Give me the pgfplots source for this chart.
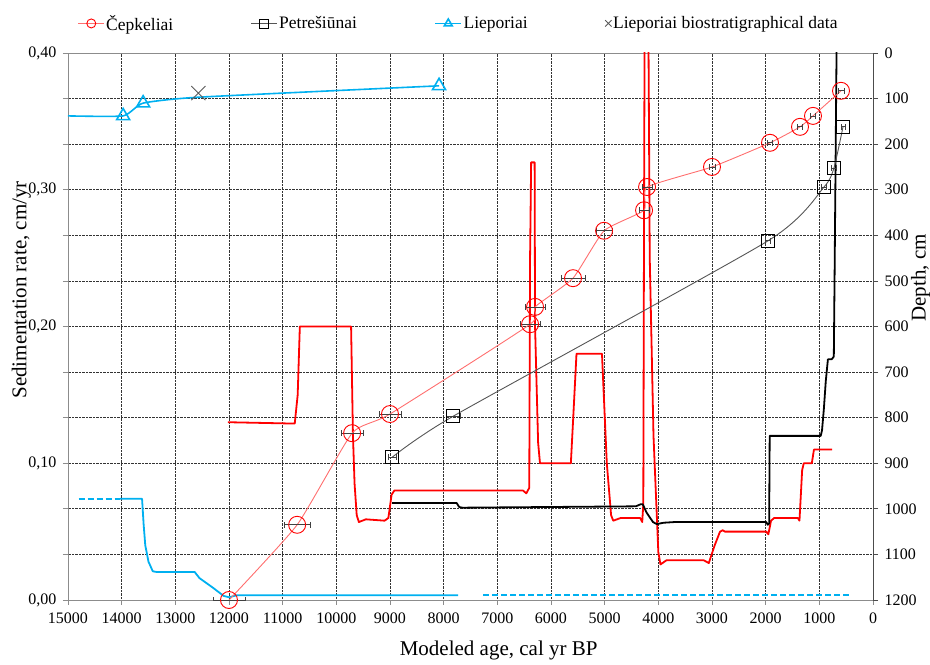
\documentclass[border=0pt]{standalone}
\usepackage{fontspec}
\setmainfont{Liberation Serif}
\usepackage{pgfplots}
\pgfplotsset{compat=1.18}

\definecolor{cepred}{RGB}{255,0,0}
\definecolor{cepline}{RGB}{255,110,110}
\definecolor{liepblue}{RGB}{0,176,240}
\definecolor{petgray}{RGB}{85,85,85}
\definecolor{axgray}{RGB}{140,140,140}

\pgfplotsset{
  frame/.style={
    width=805pt, height=547pt, scale only axis,
    xmin=0, xmax=15000, x dir=reverse,
    scaled x ticks=false, scaled y ticks=false,
    tick align=outside, major tick length=5pt,
    tick label style={font=\fontsize{16}{19}\selectfont},
    label style={font=\fontsize{21}{25}\selectfont},
    /pgf/number format/assume math mode=true,
    /pgf/number format/1000 sep={},
  },
  midmark legend/.style={legend image code/.code={\draw[##1, mark indices={2}]
    plot coordinates {(0pt,0pt)(13pt,0pt)(26pt,0pt)};}},
}

\begin{document}
\begin{tikzpicture}
% left axis: sedimentation rate
\begin{axis}[frame, name=rate,
  ymin=0, ymax=0.4,
  xtick={0,1000,...,15000}, xtick pos=left,
  ytick={0,0.1,0.2,0.3,0.4}, ytick pos=left,
  extra y ticks={0.033333,0.066667,0.133333,0.166667,0.233333,0.266667,0.333333,0.366667},
  extra y tick labels={,,,,,,,},
  extra y tick style={grid=major},
  xmajorgrids, ymajorgrids,
  grid style={densely dotted, black!80, line width=0.7pt},
  axis line style={axgray, line width=0.8pt},
  tick style={axgray, line width=0.8pt},
  xticklabel style={yshift=-4pt},
  yticklabel style={xshift=-3pt, /pgf/number format/fixed, /pgf/number format/fixed zerofill,
    /pgf/number format/precision=2, /pgf/number format/use comma},
  xlabel={Modeled age, cal yr BP},
  ylabel={Sedimentation rate, cm/yr},
  xlabel style={at={(axis description cs:0.535,-0.069)}, anchor=north},
  ylabel style={at={(axis description cs:-0.058,0.567)}, anchor=center},
  line join=round,
]
% Čepkeliai rate
\addplot[cepred, line width=1.8pt] coordinates {
(12020,0.130)(10775,0.129)(10720,0.150)(10680,0.200)(9725,0.200)(9690,0.120)
(9660,0.085)(9620,0.062)(9580,0.057)(9450,0.059)(9100,0.058)(9030,0.060)
(8970,0.077)(8920,0.080)(6520,0.080)(6460,0.078)(6405,0.082)(6390,0.250)
(6370,0.320)(6305,0.320)(6297,0.200)(6240,0.115)(6205,0.100)(5630,0.100)
(5590,0.130)(5525,0.180)(5050,0.180)(4960,0.100)(4880,0.062)(4840,0.058)
(4700,0.060)(4340,0.060)(4300,0.057)(4280,0.070)(4265,0.300)(4255,0.420)
(4185,0.420)(4160,0.250)(4090,0.120)(4000,0.035)(3960,0.026)(3850,0.029)
(3150,0.029)(3060,0.027)(2950,0.040)(2850,0.050)(2800,0.051)(2760,0.050)
(1990,0.050)(1950,0.048)(1900,0.058)(1840,0.060)(1400,0.060)(1370,0.058)
(1320,0.095)(1290,0.100)(1140,0.100)(1100,0.110)(760,0.110)};
% Petrešiūnai rate
\addplot[black, line width=1.8pt] coordinates {
(8960,0.071)(7760,0.071)(7710,0.068)(7650,0.0675)(4420,0.0685)(4330,0.070)
(4290,0.070)(4220,0.064)(4100,0.057)(4030,0.0555)(3900,0.0565)(3700,0.057)
(1990,0.057)(1960,0.055)(1935,0.056)(1925,0.120)(975,0.120)(950,0.124)
(915,0.140)(880,0.160)(840,0.176)(770,0.176)(730,0.178)(715,0.240)
(695,0.330)(675,0.420)};
% Lieporiai rate
\addplot[liepblue, line width=1.8pt, dash pattern=on 6pt off 3pt] coordinates {
(14800,0.074)(14030,0.074)};
\addplot[liepblue, line width=1.8pt] coordinates {
(14030,0.074)(13620,0.074)(13590,0.055)(13560,0.040)(13500,0.028)(13420,0.021)
(13350,0.0205)(12640,0.0205)(12550,0.016)(12300,0.009)(12100,0.003)(12000,0.002)
(11850,0.0035)(7730,0.0035)};
\addplot[liepblue, line width=1.8pt, dash pattern=on 6pt off 3pt] coordinates {
(7260,0.0035)(430,0.0035)};
\end{axis}

% right axis: depth
\begin{axis}[frame,
  ymin=0, ymax=1200, y dir=reverse,
  axis x line=none, axis y line*=right,
  ytick={0,100,...,1200},
  axis line style={black!70, line width=0.8pt},
  tick style={black!70, line width=0.8pt},
  yticklabel style={xshift=3pt},
  ylabel={Depth, cm},
  ylabel style={at={(axis description cs:1.059,0.589)}, anchor=center},
  legend columns=4,
  legend style={at={(axis description cs:0.012,1.054)}, anchor=west,
    draw=none, fill=none, inner sep=0pt,
    font=\fontsize{17.5}{20}\selectfont,
    nodes={inner sep=1.5pt},
    /tikz/every even column/.append style={column sep=76pt}},
  legend cell align=left,
  legend image code/.code={\draw[mark repeat=2, mark phase=2, #1]
    plot coordinates {(0pt,0pt)(13pt,0pt)(26pt,0pt)};},
  legend image post style={mark size=4.5pt},
]
\addplot[cepline, line width=0.9pt, smooth, tension=0.3,
  mark=o, mark size=8.5pt, mark options={cepred, line width=0.9pt},
  error bars/.cd, x dir=both, x explicit,
  error bar style={black!75, line width=0.7pt},
  error mark options={black!75, mark size=3pt, rotate=90}]
coordinates {
(12000,1200) +- (300,0)
(10730,1035) +- (240,0)
(9706,834) +- (210,0)
(9000,792) +- (210,0)
(6390,595) +- (180,0)
(6297,557) +- (180,0)
(5590,494) +- (225,0)
(5011,390) +- (155,0)
(4266,345) +- (95,0)
(4210,294) +- (95,0)
(3000,250) +- (60,0)
(1919,197) +- (45,0)
(1360,162) +- (45,0)
(1118,138) +- (45,0)
(596,83) +- (55,0)};
\addplot[petgray, line width=0.9pt, smooth, tension=0.35,
  mark=square, mark size=6.5pt, mark options={black, line width=0.9pt},
  error bars/.cd, x dir=both, x explicit,
  error bar style={black!75, line width=0.7pt},
  error mark options={black!75, mark size=3pt, rotate=90}]
coordinates {
(8961,887) +- (70,0)
(7825,797) +- (130,0)
(1956,412) +- (45,0)
(913,294) +- (45,0)
(727,252) +- (45,0)
(559,162) +- (35,0)};
\addplot[liepblue, line width=1.6pt, smooth, tension=0.3,
  mark=triangle, mark size=7.5pt, mark indices={2,3,5},
  mark options={liepblue, line width=1.6pt}, midmark legend]
coordinates {(15000,138)(13972,138)(13600,110)(12570,97)(8086,72)};
\addplot[only marks, mark=x, mark size=10pt, black!65, line width=0.9pt]
coordinates {(12570,88)};
\legend{Čepkeliai, Petrešiūnai, Lieporiai, Lieporiai biostratigraphical data}
\end{axis}
\pgfresetboundingbox
\path[use as bounding box] ([shift={(-68pt,-65pt)}]rate.south west)
  rectangle ([shift={(57pt,53pt)}]rate.north east);
\end{tikzpicture}
\end{document}
